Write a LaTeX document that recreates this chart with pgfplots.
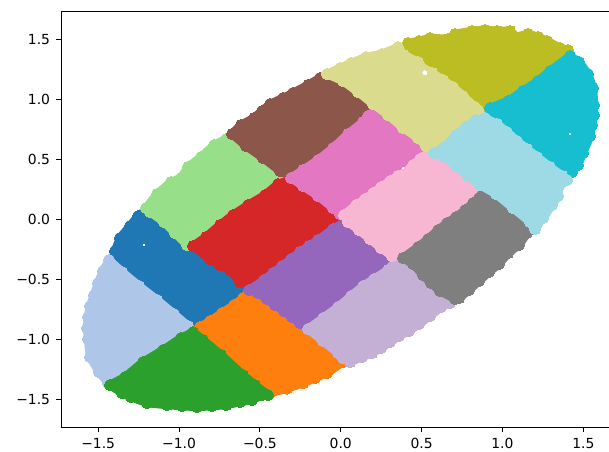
\documentclass[border=0pt]{standalone}
\usepackage{fontspec}
\setmainfont{DejaVu Sans}
\usepackage{pgfplots}
\pgfplotsset{compat=1.18}
\pgfplotsset{cluster/.style={draw=#1, fill=#1, line width=6.4pt, line join=round, mark=*, mark size=4.2pt, mark options={fill=#1, draw=#1, line width=0pt, solid}},
 frame/.style={at={(0,0)},anchor=south west,scale only axis,width=411pt,height=312pt,
  xmin=-1.730,xmax=1.659,ymin=-1.730,ymax=1.735},
 ca/.style={frame,hide axis}}
\definecolor{c1}{HTML}{1F77B4}\definecolor{c2}{HTML}{AEC7E8}\definecolor{c3}{HTML}{FF7F0E}\definecolor{c4}{HTML}{2CA02C}
\definecolor{c5}{HTML}{98DF8A}\definecolor{c6}{HTML}{D62728}\definecolor{c7}{HTML}{9467BD}\definecolor{c8}{HTML}{C5B0D5}
\definecolor{c9}{HTML}{8C564B}\definecolor{c10}{HTML}{E377C2}\definecolor{c11}{HTML}{F7B6D2}\definecolor{c12}{HTML}{7F7F7F}
\definecolor{c13}{HTML}{BCBD22}\definecolor{c14}{HTML}{DBDB8D}\definecolor{c15}{HTML}{17BECF}\definecolor{c16}{HTML}{9EDAE5}
\begin{document}
\begin{tikzpicture}
\useasboundingbox (-45.75pt,-18.75pt) rectangle (411pt,320.25pt);
\begin{axis}[frame,
  xtick={-1.5,-1,-0.5,0,0.5,1,1.5},xticklabels={−1.5,−1.0,−0.5,0.0,0.5,1.0,1.5},
  ytick={-1.5,-1,-0.5,0,0.5,1,1.5},yticklabels={−1.5,−1.0,−0.5,0.0,0.5,1.0,1.5},
  xtick pos=bottom,ytick pos=left,tick align=outside,
  major tick length=3.65pt,
  tick style={black,line width=0.6pt},
  axis line style={black,line width=0.6pt},
  tick label style={font=\fontsize{10.42}{12}\selectfont,text=black},
  xticklabel style={yshift=-1pt},
  yticklabel style={xshift=-1pt}]
\addplot[cluster=c1] coordinates {(-1.396,-0.264)(-1.365,-0.156)(-1.303,-0.056)(-1.253,0.027)(-1.167,0.111)(-0.901,-0.172)(-0.549,-0.572)(-0.839,-0.939)(-1.025,-0.856)(-1.427,-0.389)} --cycle;
\end{axis}
\begin{axis}[ca]\addplot[cluster=c2] coordinates {(-1.433,-0.339)(-1.352,-0.439)(-1.247,-0.556)(-1.136,-0.672)(-1.031,-0.789)(-0.944,-0.889)(-0.963,-1.030)(-1.303,-1.364)(-1.439,-1.364)(-1.495,-1.272)(-1.550,-1.147)(-1.563,-0.997)(-1.569,-0.905)(-1.563,-0.814)(-1.550,-0.722)(-1.526,-0.631)(-1.501,-0.531)(-1.470,-0.431)} --cycle;\end{axis}
\begin{axis}[ca]\addplot[cluster=c3] coordinates {(-0.870,-0.897)(-0.808,-0.847)(-0.734,-0.781)(-0.660,-0.714)(-0.604,-0.656)(-0.511,-0.572)(-0.177,-0.839)(0.058,-1.105)(0.014,-1.189)(-0.085,-1.280)(-0.159,-1.322)(-0.233,-1.364)(-0.332,-1.409)(-0.437,-1.447)(-0.530,-1.439)(-0.870,-1.047)} --cycle;\end{axis}
\begin{axis}[ca]\addplot[cluster=c4] coordinates {(-0.913,-0.939)(-0.988,-0.989)(-1.099,-1.089)(-1.223,-1.189)(-1.334,-1.314)(-1.427,-1.380)(-1.352,-1.447)(-1.297,-1.480)(-1.198,-1.530)(-1.074,-1.547)(-0.981,-1.555)(-0.889,-1.564)(-0.796,-1.555)(-0.709,-1.547)(-0.623,-1.522)(-0.549,-1.505)(-0.487,-1.464)(-0.450,-1.464)(-0.530,-1.380)(-0.604,-1.297)(-0.740,-1.130)(-0.852,-1.005)} --cycle;\end{axis}
\begin{axis}[ca]\addplot[cluster=c5] coordinates {(-1.204,0.094)(-1.136,0.211)(-1.049,0.311)(-0.988,0.344)(-0.944,0.436)(-0.864,0.519)(-0.783,0.619)(-0.709,0.669)(-0.592,0.661)(-0.301,0.369)(-0.363,0.227)(-0.870,-0.231)(-0.950,-0.214)(-1.025,-0.114)(-1.093,-0.022)(-1.179,0.061)} --cycle;\end{axis}
\begin{axis}[ca]\addplot[cluster=c6] coordinates {(-0.388,0.294)(-0.468,0.202)(-0.573,0.119)(-0.666,0.036)(-0.746,-0.047)(-0.833,-0.147)(-0.913,-0.222)(-0.808,-0.331)(-0.746,-0.381)(-0.685,-0.422)(-0.623,-0.522)(-0.487,-0.572)(-0.035,-0.131)(-0.017,-0.006)(-0.004,0.119)(-0.283,0.344)} --cycle;\end{axis}
\begin{axis}[ca]\addplot[cluster=c7] coordinates {(-0.567,-0.589)(-0.474,-0.506)(-0.419,-0.447)(-0.363,-0.389)(-0.307,-0.331)(-0.252,-0.272)(-0.196,-0.222)(-0.140,-0.172)(-0.048,-0.081)(0.070,0.011)(0.367,-0.256)(0.367,-0.406)(-0.140,-0.939)(-0.252,-0.864)(-0.301,-0.814)(-0.351,-0.764)(-0.406,-0.714)(-0.456,-0.664)(-0.511,-0.614)} --cycle;\end{axis}
\begin{axis}[ca]\addplot[cluster=c8] coordinates {(-0.202,-0.914)(-0.109,-0.822)(-0.017,-0.731)(0.064,-0.639)(0.138,-0.556)(0.206,-0.497)(0.293,-0.422)(0.348,-0.331)(0.429,-0.322)(0.738,-0.622)(0.676,-0.697)(0.620,-0.731)(0.552,-0.806)(0.484,-0.872)(0.422,-0.930)(0.361,-0.972)(0.305,-1.022)(0.249,-1.072)(0.194,-1.114)(0.132,-1.147)(0.058,-1.189)(0.014,-1.155)(-0.017,-1.114)(-0.109,-1.014)} --cycle;\end{axis}
\begin{axis}[ca]\addplot[cluster=c9] coordinates {(-0.672,0.711)(-0.617,0.786)(-0.536,0.844)(-0.487,0.902)(-0.437,0.960)(-0.357,1.010)(-0.295,1.052)(-0.202,1.119)(-0.128,1.177)(-0.035,1.227)(0.231,0.994)(0.194,0.811)(-0.252,0.327)(-0.375,0.402)(-0.480,0.511)(-0.586,0.611)} --cycle;\end{axis}
\begin{axis}[ca]\addplot[cluster=c10] coordinates {(-0.307,0.344)(-0.233,0.411)(-0.140,0.494)(-0.048,0.594)(0.045,0.711)(0.138,0.811)(0.169,0.860)(0.231,0.927)(0.540,0.661)(0.552,0.511)(0.070,0.036)(-0.004,0.044)(-0.048,0.094)(-0.140,0.194)(-0.233,0.277)} --cycle;\end{axis}
\begin{axis}[ca]\addplot[cluster=c11] coordinates {(0.020,0.036)(0.095,0.119)(0.150,0.169)(0.200,0.219)(0.249,0.269)(0.305,0.319)(0.354,0.361)(0.404,0.394)(0.447,0.452)(0.490,0.502)(0.515,0.519)(0.571,0.577)(0.676,0.536)(0.911,0.277)(0.886,0.102)(0.441,-0.314)(0.317,-0.306)(0.249,-0.239)(0.181,-0.164)(0.113,-0.089)(0.045,-0.022)} --cycle;\end{axis}
\begin{axis}[ca]\addplot[cluster=c12] coordinates {(0.385,-0.322)(0.478,-0.231)(0.540,-0.164)(0.602,-0.089)(0.657,-0.031)(0.713,0.019)(0.769,0.077)(0.818,0.136)(0.855,0.177)(0.911,0.302)(1.208,0.011)(1.152,-0.114)(1.103,-0.214)(1.035,-0.281)(0.979,-0.372)(0.917,-0.439)(0.855,-0.514)(0.793,-0.589)(0.732,-0.656)(0.707,-0.664)(0.614,-0.597)(0.558,-0.531)(0.509,-0.464)(0.447,-0.372)} --cycle;\end{axis}
\begin{axis}[ca]\addplot[cluster=c13] coordinates {(0.416,1.469)(0.484,1.485)(0.552,1.510)(0.664,1.502)(0.707,1.544)(0.812,1.569)(0.892,1.577)(0.967,1.569)(1.047,1.569)(1.084,1.519)(1.158,1.544)(1.220,1.519)(1.276,1.485)(1.356,1.427)(1.406,1.410)(1.430,1.327)(0.954,0.894)(0.800,0.927)(0.416,1.310)} --cycle;\end{axis}
\begin{axis}[ca]\addplot[cluster=c14] coordinates {(-0.085,1.210)(-0.004,1.260)(0.064,1.302)(0.156,1.352)(0.255,1.377)(0.354,1.435)(0.391,1.369)(0.478,1.310)(0.490,1.277)(0.565,1.219)(0.633,1.160)(0.694,1.102)(0.756,1.027)(0.830,0.935)(0.849,0.910)(0.911,0.786)(0.614,0.561)(0.527,0.611)(0.478,0.677)(0.385,0.761)(0.293,0.869)(0.200,0.960)(0.107,1.060)(0.014,1.152)} --cycle;\end{axis}
\begin{axis}[ca]\addplot[cluster=c15] coordinates {(1.418,1.360)(1.474,1.310)(1.529,1.210)(1.560,1.094)(1.566,0.952)(1.566,0.869)(1.554,0.786)(1.542,0.694)(1.498,0.552)(1.467,0.452)(1.430,0.394)(1.369,0.311)(0.954,0.744)(0.923,0.927)(1.035,0.985)(1.127,1.069)(1.220,1.152)(1.294,1.235)} --cycle;\end{axis}
\begin{axis}[ca]\addplot[cluster=c16] coordinates {(0.577,0.552)(0.633,0.594)(0.713,0.702)(0.775,0.769)(0.837,0.827)(0.892,0.844)(0.967,0.794)(1.028,0.727)(1.090,0.652)(1.152,0.586)(1.214,0.519)(1.294,0.436)(1.369,0.361)(1.399,0.327)(1.344,0.261)(1.344,0.194)(1.307,0.119)(1.251,0.011)(1.214,-0.039)(1.202,-0.081)(1.171,-0.022)(1.065,0.094)(0.960,0.211)(0.861,0.286)(0.787,0.361)(0.713,0.444)(0.633,0.527)} --cycle;
\addplot[only marks,white,mark=*,mark size=1.5pt,mark options={fill=white,draw=white,line width=0pt}] coordinates {(0.521,1.219)};
\addplot[only marks,white,mark=*,mark size=0.6pt,mark options={fill=white,draw=white,line width=0pt}] coordinates {(1.418,0.711)(0.385,0.427)(-1.216,-0.214)};
\end{axis}
\end{tikzpicture}
\end{document}
